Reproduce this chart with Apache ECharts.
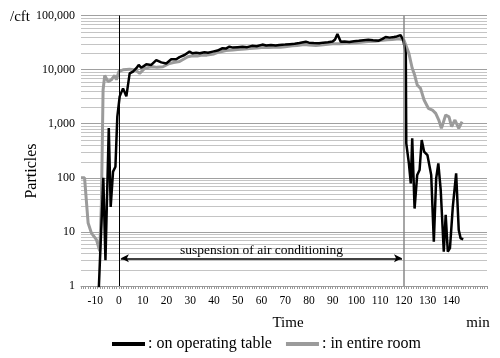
<!DOCTYPE html>
<html>
<head>
<meta charset="utf-8">
<script src="https://cdn.jsdelivr.net/npm/echarts@6/dist/echarts.min.js"></script>
<style>html,body{margin:0;padding:0;background:#fff;}#c{width:500px;height:358px;}</style>
</head>
<body>
<div id="c"></div>
<script>
// time in minutes, particles per cubic foot
const tableTimes = [-8.6,-6.6,-5.7,-4.3,-3.5,-2.5,-1.5,-0.7,0.3,1.7,3.1,3.8,4.5,5.9,7.3,8.3,9.4,11.5,13.6,15.7,17.8,19.9,22,24.1,25.5,27.6,29.7,31,32.5,34,36,37.5,39.5,41.5,43.6,45,46.5,48,50,52,54,56,58,60.4,62,64,66,67.5,70,72,74,76,78.7,80,82,84.3,86,88,90,91,92,93.4,95,97,99,101,103,105,107,109.4,111,112.3,114,115.8,117,118.6,119.7,120.8,121,122.1,122.9,123.5,124.5,125.6,126.6,127.5,128.5,129.9,131.5,132.6,133.6,134.5,135.5,136.8,137.6,138.5,139.4,140.6,142,143.1,143.9,145];
const tableValues = [0.7,100,3,830,29,130,160,1350,3200,4500,3200,3200,8500,9200,10600,12200,10800,12500,12200,15000,13600,13000,15500,15500,17000,18600,21500,20000,20500,20000,21000,20500,21500,22500,24800,24500,26500,25500,26000,26500,26000,27500,27000,29000,28000,28500,28000,28500,29000,29500,30000,31000,32800,31500,31000,30600,31500,32000,33000,36000,45500,32800,33000,32500,33500,34200,35000,35500,34800,34200,37000,40000,39000,40000,41000,43500,35200,20000,434,185,79,537,27,113,139,500,305,263,113,6.6,98,185,60,4.3,20.6,4.3,5,29,121,10.8,7.6,7.3];
const roomTimes = [-16,-14.5,-13,-11.6,-9.5,-8.1,-7.4,-6.7,-6,-4.6,-3.2,-1.8,-1.1,0,1.7,4.5,7,8.7,10.8,12.5,14.3,16,18.5,21.3,23,25.5,29,31,33,35,37,40,42,45,48,50,53,55,58,60,63,65,68,70,73,75,78,80,83,85,88,90,93,95,98,100,103,105,108,110,113,115,118,120,122.1,123.5,124.5,125.6,127,128.5,130.3,132,133.4,134.7,135.8,137.6,139,140.1,141.5,143.1,144.5];
const roomValues = [100,100,14.6,9.5,7.2,4.4,34,4200,7800,6000,6500,7800,6500,9300,9900,10200,9800,8500,10500,11000,11300,11000,11300,13000,13500,14100,17300,18000,17800,18500,18500,19500,21000,22500,23000,23500,24000,24500,25000,25500,25500,26000,26000,26500,27500,28000,29000,28500,28000,28500,29500,30000,30000,30500,31000,31500,32500,33000,33500,34500,35500,36000,37000,35200,20000,10600,8000,5200,4500,2740,1930,1790,1550,1170,820,1450,1340,880,1170,820,1090];
const xTickLabels = [-10,0,10,20,30,40,50,60,70,80,90,100,110,120,130,140];
const seriesNames = [': on operating table', ': in entire room'];
const annotationText = 'suspension of air conditioning';
const suspensionStart = 0, suspensionEnd = 120;

const X_MIN = -16, X_MAX = 155;
const xMinorTicks = [];
for (let t = X_MIN; t <= X_MAX; t++) xMinorTicks.push(t);
// minor log gridline levels (2..9 within each decade)
const minorLevels = [];
for (let d = 1; d < 100000; d *= 10) for (let k = 2; k <= 9; k++) minorLevels.push([X_MIN, d * k]);

const zip = (a, b) => a.map((v, i) => [v, b[i]]);
const FONT = 'Liberation Serif';

const chart = echarts.init(document.getElementById('c'), null, {renderer: 'canvas'});
chart.setOption({
  animation: false,
  backgroundColor: '#fff',
  textStyle: {fontFamily: FONT, color: '#000'},
  grid: {left: 81, right: 13, top: 15.5, bottom: 72, containLabel: false},
  legend: {
    left: 112, top: 336, padding: 0, itemGap: 14, itemWidth: 33, itemHeight: 4,
    icon: 'rect',
    textStyle: {fontFamily: FONT, fontSize: 16, color: '#000', padding: [0, 0, 0, -2]},
    data: seriesNames
  },
  xAxis: {
    type: 'value', min: X_MIN, max: X_MAX,
    axisLine: {show: true, lineStyle: {color: '#999', width: 1}},
    axisTick: {show: true, customValues: xMinorTicks, length: 3, lineStyle: {color: '#999'}},
    axisLabel: {customValues: xTickLabels, fontSize: 11.5, fontFamily: FONT, color: '#000', margin: 9},
    splitLine: {show: false}
  },
  yAxis: {
    type: 'log', logBase: 10, min: 1, max: 100000,
    axisLine: {show: true, lineStyle: {color: '#999', width: 1}},
    axisTick: {show: true, length: 4, lineStyle: {color: '#999'}},
    axisLabel: {fontSize: 12, fontFamily: FONT, color: '#000', margin: 6,
      formatter: v => Math.round(v).toString().replace(/\B(?=(\d{3})+(?!\d))/g, ',')},
    splitLine: {show: true, lineStyle: {color: '#a0a0a0', width: 1}}
  },
  graphic: [
    {type: 'text', x: 10, y: 17, style: {text: '/cft', fontFamily: FONT, fontSize: 15, fill: '#000', align: 'left', verticalAlign: 'middle'}},
    {type: 'text', x: 32, y: 171, rotation: Math.PI / 2, style: {text: 'Particles', fontFamily: FONT, fontSize: 16, fill: '#000', align: 'center', verticalAlign: 'middle'}},
    {type: 'text', x: 288, y: 323, style: {text: 'Time', fontFamily: FONT, fontSize: 15, fill: '#000', align: 'center', verticalAlign: 'middle'}},
    {type: 'text', x: 478, y: 323, style: {text: 'min', fontFamily: FONT, fontSize: 15, fill: '#000', align: 'center', verticalAlign: 'middle'}}
  ],
  series: [
    {
      type: 'custom', silent: true, z: 1, clip: false,
      encode: {x: 0, y: 1},
      data: minorLevels,
      renderItem: function (params, api) {
        const v = api.value(1);
        const a = api.coord([X_MIN, v]);
        const b = api.coord([X_MAX, v]);
        const y = Math.round(a[1]) + 0.5;
        return {type: 'line', shape: {x1: a[0], y1: y, x2: b[0], y2: y},
                style: {stroke: '#c4c4c4', lineWidth: 1}};
      }
    },
    {
      name: seriesNames[1], type: 'line', z: 2, showSymbol: false, symbol: 'none',
      color: '#9b9b9b', itemStyle: {color: '#9b9b9b'},
      lineStyle: {color: '#9b9b9b', width: 3},
      data: zip(roomTimes, roomValues)
    },
    {
      name: seriesNames[0], type: 'line', z: 3, showSymbol: false, symbol: 'none',
      color: '#000', itemStyle: {color: '#000'},
      lineStyle: {color: '#000', width: 2.5},
      data: zip(tableTimes, tableValues),
      markLine: {
        silent: true, symbol: ['none', 'none'], animation: false,
        label: {show: false},
        data: [
          [{coord: [suspensionStart, 1], lineStyle: {color: '#000', width: 1, type: 'solid'}}, {coord: [suspensionStart, 100000]}],
          [{coord: [suspensionEnd, 1], lineStyle: {color: '#888', width: 1.5, type: 'solid'}}, {coord: [suspensionEnd, 100000]}],
          [{coord: [suspensionStart + 0.8, 3.25], symbol: 'arrow', symbolSize: [6, 8],
            lineStyle: {color: '#000', width: 1.5, type: 'solid'},
            label: {show: true, position: 'insideMiddleTop', distance: 1, formatter: annotationText,
              fontFamily: FONT, fontSize: 13.5, color: '#000'}},
           {coord: [suspensionEnd - 0.8, 3.25], symbol: 'arrow', symbolSize: [6, 8]}]
        ]
      }
    }
  ]
});
</script>
</body>
</html>
